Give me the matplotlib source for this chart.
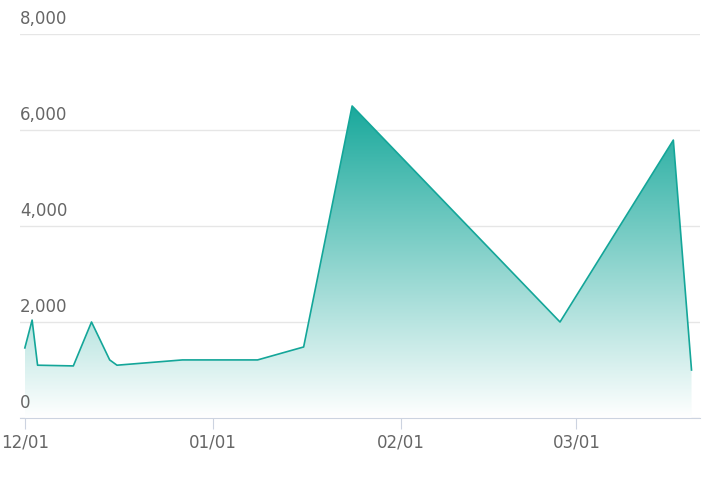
import numpy as np
import matplotlib.pyplot as plt
import matplotlib.dates as mdates
from matplotlib.colors import LinearSegmentedColormap
from matplotlib.transforms import blended_transform_factory
import datetime as dt

start = dt.datetime(2023, 12, 1)
day_offsets = [0, 1.2, 2.1, 8, 11, 14, 15.2, 26, 38.4, 46, 54, 88.3, 107, 110]
values = [1460, 2040, 1100, 1085, 2000, 1210, 1100, 1210, 1210, 1480, 6500, 2000, 5790, 1000]
dates = [start + dt.timedelta(days=d) for d in day_offsets]
y_ticks = [0, 2000, 4000, 6000, 8000]
line_color = '#14a699'

fig = plt.figure(figsize=(7.16, 4.84), dpi=100)
ax = fig.add_axes([20 / 716, 1 - 418 / 484, 680 / 716, (418 - 34) / 484])
x = mdates.date2num(dates)
x0 = mdates.date2num(start)
ax.set_xlim(x0 - 0.8, x0 + 111.4)
ax.set_ylim(0, 8000)

ax.plot(x, values, color=line_color, lw=1.2, zorder=3)
poly = ax.fill_between(x, values, 0, color='none')
cmap = LinearSegmentedColormap.from_list('g', ['#ffffff', '#1aa99c'])
grad = np.linspace(0, 1, 256).reshape(-1, 1)
im = ax.imshow(grad, aspect='auto', cmap=cmap, origin='lower',
               extent=[x.min(), x.max(), 0, max(values)], zorder=2)
im.set_clip_path(poly.get_paths()[0], transform=ax.transData)
ax.set_xlim(x0 - 0.8, x0 + 111.4)
ax.set_ylim(0, 8000)

for s in ['top', 'right', 'left']:
    ax.spines[s].set_visible(False)
ax.spines['bottom'].set_color('#ccd3e0')
ax.set_yticks(y_ticks)
ax.set_yticklabels([])
ax.tick_params(axis='y', length=0)
ax.grid(axis='y', color='#e6e6e6', lw=1)
ax.set_axisbelow(True)
tr = blended_transform_factory(ax.transAxes, ax.transData)
for v in y_ticks:
    ax.text(0, v + 120, f'{v:,}', transform=tr, ha='left', va='bottom',
            fontsize=12, color='#666666')

ax.xaxis.set_major_locator(mdates.MonthLocator())
ax.xaxis.set_major_formatter(mdates.DateFormatter('%m/%d'))
ax.tick_params(axis='x', colors='#ccd3e0', labelcolor='#666666', labelsize=12, length=8)

fig.savefig('out.png', dpi=100)
